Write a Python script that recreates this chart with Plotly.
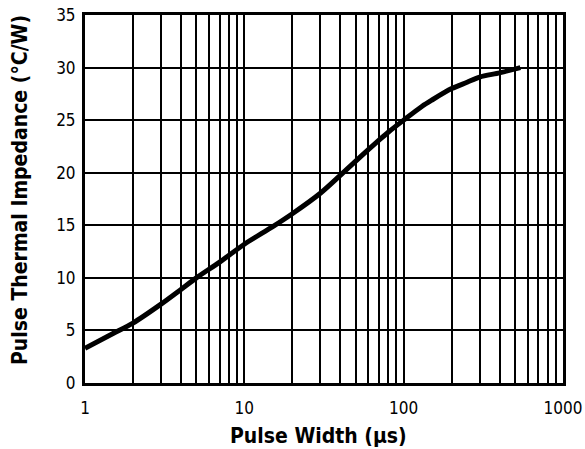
import plotly.graph_objects as go

pulse_width_us = [1, 1.5, 2, 3, 4, 5, 7, 10, 15, 20, 30, 40, 50, 60, 70, 80, 100,
                  130, 150, 200, 250, 300, 400, 540]
impedance_cw = [3.3, 4.7, 5.7, 7.5, 8.9, 10.0, 11.5, 13.2, 14.85, 16.1, 18.05, 19.75,
                21.1, 22.2, 23.1, 23.85, 25.0, 26.3, 26.9, 28.0, 28.6, 29.1, 29.5, 30.0]

x_tick_vals = [1, 10, 100, 1000]
x_tick_text = ["1", "10", "100", "1000"]
y_tick_vals = [0, 5, 10, 15, 20, 25, 30, 35]
x_title = "Pulse Width (µs)"
y_title = "Pulse Thermal Impedance (°C/W)"

font_family = "DejaVu Sans Condensed, Liberation Sans Narrow, Arial Narrow, sans-serif"

fig = go.Figure()
fig.add_trace(go.Scatter(
    x=pulse_width_us, y=impedance_cw, mode="lines",
    line=dict(color="black", width=5, shape="spline", smoothing=0.8),
    showlegend=False, hoverinfo="skip",
))

fig.update_layout(
    width=585, height=449,
    margin=dict(l=85, r=22, t=15, b=66, autoexpand=False),
    paper_bgcolor="white", plot_bgcolor="white",
    font=dict(family=font_family, color="black"),
    xaxis=dict(
        type="log", range=[0, 3], automargin=False,
        tickvals=x_tick_vals, ticktext=x_tick_text,
        showgrid=True, gridcolor="black", gridwidth=1.5,
        minor=dict(dtick="D1", showgrid=True, gridcolor="black", gridwidth=1.5, ticks=""),
        showline=True, linecolor="black", linewidth=3, mirror=True,
        ticks="outside", ticklen=8, tickcolor="rgba(0,0,0,0)",
        ticklabeloverflow="allow",
        tickfont=dict(size=17, family=font_family),
        zeroline=False,
    ),
    yaxis=dict(
        range=[0, 35], tickvals=y_tick_vals, automargin=False,
        showgrid=True, gridcolor="black", gridwidth=1.5,
        showline=True, linecolor="black", linewidth=3, mirror=True,
        ticks="outside", ticklen=3, tickcolor="rgba(0,0,0,0)",
        ticklabeloverflow="allow",
        tickfont=dict(size=17, family=font_family),
        zeroline=False,
    ),
    annotations=[
        dict(text="<b>" + x_title + "</b>", xref="paper", yref="paper",
             x=0.4875, y=-0.144, xanchor="center", yanchor="middle",
             showarrow=False, font=dict(size=21, family=font_family, color="black")),
        dict(text="<b>" + y_title + "</b>", xref="paper", yref="paper",
             x=-0.136, y=0.5245, xanchor="center", yanchor="middle", textangle=-90,
             showarrow=False, font=dict(size=21, family=font_family, color="black")),
    ],
)
fig.update_xaxes(tickprefix="<b>", ticksuffix="</b>")
fig.update_yaxes(tickprefix="<b>", ticksuffix="</b>")

fig.write_html("out.html", config={"displayModeBar": False},
               post_script="document.body.style.margin='0';")
